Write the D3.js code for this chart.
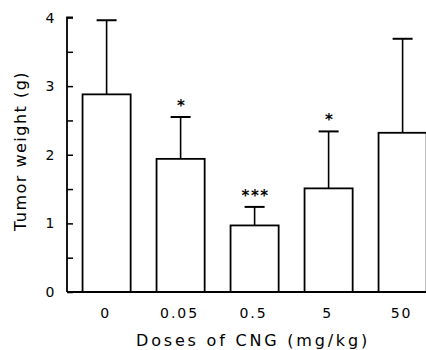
<!DOCTYPE html>
<html><head><meta charset="utf-8">
<script src="https://cdn.jsdelivr.net/npm/d3@7"></script>
<style>body{margin:0;background:#fff}svg{display:block}</style>
</head><body>
<svg id="c" width="426" height="350"></svg>
<script>
const categories = ["0", "0.05", "0.5", "5", "50"];
const means = [2.88, 1.94, 0.97, 1.51, 2.32];
const errTops = [3.96, 2.55, 1.24, 2.34, 3.69];
const marks = ["", "*", "***", "*", ""];
const yTicks = [0, 1, 2, 3, 4];
const yMinor = [0.5, 1.5, 2.5, 3.5];

const svg = d3.select("#c");
const x = d3.scaleBand().domain(categories).range([69.6, 439.6]).paddingInner(0.35).paddingOuter(0.175);
const y = d3.scaleLinear().domain([0, 4]).range([292, 17.5]);
const font = "'DejaVu Sans', sans-serif";

// bars
svg.selectAll("rect.bar").data(categories).enter().append("rect")
  .attr("x", d => x(d)).attr("y", (d,i) => y(means[i]))
  .attr("width", x.bandwidth()).attr("height", (d,i) => y(0) - y(means[i]))
  .attr("fill", "#fff").attr("stroke", "#000").attr("stroke-width", 1.8);

// error bars
const cx = d => x(d) + x.bandwidth()/2;
svg.selectAll("line.err").data(categories).enter().append("line")
  .attr("x1", cx).attr("x2", cx)
  .attr("y1", (d,i) => y(means[i])).attr("y2", (d,i) => y(errTops[i]))
  .attr("stroke", "#000").attr("stroke-width", 1.6);
svg.selectAll("line.cap").data(categories).enter().append("line")
  .attr("x1", d => cx(d) - 10).attr("x2", d => cx(d) + 10)
  .attr("y1", (d,i) => y(errTops[i])).attr("y2", (d,i) => y(errTops[i]))
  .attr("stroke", "#000").attr("stroke-width", 2);

// significance marks
svg.selectAll("text.mark").data(categories).enter().append("text")
  .attr("x", d => cx(d) + 1).attr("y", (d,i) => y(errTops[i]) - 6)
  .attr("text-anchor", "middle").attr("font-family", font).attr("font-size", 15).attr("font-weight", "bold")
  .attr("letter-spacing", 1.5)
  .text((d,i) => marks[i]);

// y axis
const yAxis = d3.axisRight(y).tickValues(yTicks.concat(yMinor)).tickSize(6).tickFormat("");
const ya = svg.append("g").attr("transform", "translate(67,0)").call(yAxis);
ya.select(".domain").attr("stroke-width", 1.8).attr("d", `M6,${y(4)}H0V${y(0)}`);
ya.selectAll(".tick line").attr("stroke-width", 1.5);
svg.selectAll("text.yl").data(yTicks).enter().append("text")
  .attr("x", 50).attr("y", d => y(d) + 5).attr("text-anchor", "middle")
  .attr("font-family", font).attr("font-size", 14).text(d => d);

// x axis baseline
svg.append("line").attr("x1", 67).attr("x2", 426).attr("y1", y(0)).attr("y2", y(0))
  .attr("stroke", "#000").attr("stroke-width", 1.8);
svg.selectAll("text.xl").data(categories).enter().append("text")
  .attr("x", d => cx(d) - 1).attr("y", 318).attr("text-anchor", "middle")
  .attr("font-family", font).attr("font-size", 14).attr("letter-spacing", 2).text(d => d);

// titles
svg.append("text").attr("x", 253).attr("y", 346).attr("text-anchor", "middle")
  .attr("font-family", font).attr("font-size", 16).attr("letter-spacing", 2.8)
  .text("Doses of CNG (mg/kg)");
svg.append("text").attr("transform", "translate(26,151) rotate(-90)").attr("text-anchor", "middle")
  .attr("font-family", font).attr("font-size", 16).attr("letter-spacing", 1.5)
  .text("Tumor weight (g)");
</script>
</body></html>
